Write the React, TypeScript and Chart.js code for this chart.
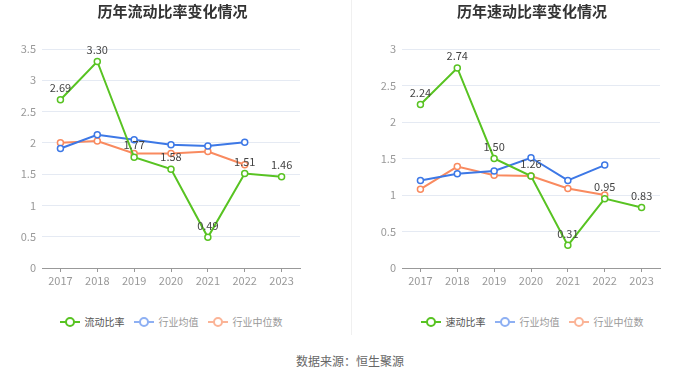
import React, { useEffect, useRef } from "react";
import { Chart, registerables } from "chart.js";

Chart.register(...registerables);

const years = ["2017", "2018", "2019", "2020", "2021", "2022", "2023"];

const currentRatio = [2.69, 3.3, 1.77, 1.58, 0.49, 1.51, 1.46];
const currentIndustryAvg = [1.91, 2.13, 2.05, 1.97, 1.95, 2.01, null];
const currentIndustryMedian = [2.0, 2.03, 1.83, 1.83, 1.86, 1.65, null];

const quickRatio = [2.24, 2.74, 1.5, 1.26, 0.31, 0.95, 0.83];
const quickIndustryAvg = [1.2, 1.29, 1.33, 1.51, 1.2, 1.41, null];
const quickIndustryMedian = [1.08, 1.39, 1.27, 1.26, 1.09, 1.0, null];

const leftTitle = "历年流动比率变化情况";
const rightTitle = "历年速动比率变化情况";
const leftLegend = ["流动比率", "行业均值", "行业中位数"];
const rightLegend = ["速动比率", "行业均值", "行业中位数"];
const sourceText = "数据来源：恒生聚源";

const GREEN = "#58c322";
const BLUE = "#3d78e6";
const ORANGE = "#f98a5f";
const FONT = "'Noto Sans CJK SC', 'Noto Sans', sans-serif";

const labelPlugin = {
  id: "greenLabels",
  afterDatasetsDraw(chart: any) {
    const ctx = chart.ctx;
    const meta = chart.getDatasetMeta(0);
    const data = chart.data.datasets[0].data;
    ctx.save();
    ctx.font = `11px ${FONT}`;
    ctx.fillStyle = "#444";
    ctx.textAlign = "center";
    ctx.textBaseline = "middle";
    meta.data.forEach((pt: any, i: number) => {
      const v = data[i];
      if (v == null) return;
      ctx.fillText(Number(v).toFixed(2), pt.x, pt.y - 12);
    });
    ctx.restore();
  },
};

function LineChart(props: {
  main: number[];
  avg: (number | null)[];
  med: (number | null)[];
  max: number;
  yWidth: number;
  padLeft: number;
  padRight: number;
  labels: string[];
}) {
  const ref = useRef<HTMLCanvasElement | null>(null);
  useEffect(() => {
    if (!ref.current) return;
    const mk = (label: string, data: any[], color: string) => ({
      label,
      data,
      borderColor: color,
      backgroundColor: "#fff",
      pointBackgroundColor: "#fff",
      pointBorderColor: color,
      pointBorderWidth: 1.5,
      pointRadius: 3,
      borderWidth: 2,
      tension: 0,
      spanGaps: false,
    });
    const chart = new Chart(ref.current, {
      type: "line",
      data: {
        labels: years,
        datasets: [
          mk(props.labels[0], props.main, GREEN),
          mk(props.labels[1], props.avg, BLUE),
          mk(props.labels[2], props.med, ORANGE),
        ] as any,
      },
      options: {
        animation: false,
        responsive: false,
        maintainAspectRatio: false,
        layout: { padding: { top: 49, left: props.padLeft, right: props.padRight, bottom: 0 } },
        plugins: {
          legend: { display: false },
          title: { display: false },
          tooltip: { enabled: false },
        },
        scales: {
          x: {
            offset: true,
            grid: {
              offset: false,
              drawOnChartArea: false,
              drawTicks: true,
              tickLength: 4,
              color: "#999",
            },
            border: { display: true, color: "#999" },
            ticks: {
              color: "#999",
              font: { family: FONT, size: 11 },
              padding: 2,
              maxRotation: 0,
            },
            afterFit: (s: any) => {
              s.height = 22;
            },
          },
          y: {
            min: 0,
            max: props.max,
            ticks: {
              stepSize: 0.5,
              color: "#999",
              font: { family: FONT, size: 11 },
              padding: 6,
              callback: (v: any) => String(v),
            },
            grid: { color: "#e5eaf3", drawTicks: false },
            border: { display: false },
            afterFit: (s: any) => {
              s.width = props.yWidth;
            },
          },
        },
      },
      plugins: [labelPlugin],
    });
    return () => chart.destroy();
  }, []);
  return <canvas ref={ref} width={350} height={290} style={{ display: "block", width: 350, height: 290 }} />;
}

function LegendItem(props: { color: string; text: string; textColor: string; last?: boolean }) {
  return (
    <div style={{ display: "flex", alignItems: "center", marginRight: props.last ? 0 : 9 }}>
      <svg width="20" height="12" style={{ marginRight: 5 }}>
        <line x1="0" y1="6" x2="20" y2="6" stroke={props.color} strokeWidth="2" />
        <circle cx="10" cy="6" r="4" fill="#fff" stroke={props.color} strokeWidth="2" />
      </svg>
      <span style={{ color: props.textColor, fontSize: 10, lineHeight: "12px" }}>{props.text}</span>
    </div>
  );
}

function Legend(props: { labels: string[]; center: number }) {
  return (
    <div
      style={{
        position: "absolute",
        top: 316,
        left: props.center - 175,
        width: 350,
        display: "flex",
        justifyContent: "center",
        fontFamily: FONT,
      }}
    >
      <LegendItem color={GREEN} text={props.labels[0]} textColor="#555" />
      <LegendItem color="#8eb0f3" text={props.labels[1]} textColor="#999" />
      <LegendItem color="#fbb497" text={props.labels[2]} textColor="#999" last />
    </div>
  );
}

export default function App() {
  return (
    <div
      style={{
        position: "fixed",
        left: 0,
        top: 0,
        width: 700,
        height: 378,
        background: "#fff",
        fontFamily: FONT,
        overflow: "hidden",
      }}
    >
      <div style={{ position: "absolute", left: 0, top: 0 }}>
        <LineChart
          main={currentRatio}
          avg={currentIndustryAvg}
          med={currentIndustryMedian}
          max={3.5}
          yWidth={42}
          padLeft={0}
          padRight={50}
          labels={leftLegend}
        />
      </div>
      <div style={{ position: "absolute", left: 350, top: 0 }}>
        <LineChart
          main={quickRatio}
          avg={quickIndustryAvg}
          med={quickIndustryMedian}
          max={3}
          yWidth={52}
          padLeft={0}
          padRight={40}
          labels={rightLegend}
        />
      </div>
      <div
        style={{
          position: "absolute",
          left: 0,
          width: 345,
          top: 0,
          textAlign: "center",
          fontSize: 15,
          fontWeight: "bold",
          color: "#333",
        }}
      >
        {leftTitle}
      </div>
      <div
        style={{
          position: "absolute",
          left: 357,
          width: 350,
          top: 0,
          textAlign: "center",
          fontSize: 15,
          fontWeight: "bold",
          color: "#333",
        }}
      >
        {rightTitle}
      </div>
      <div style={{ position: "absolute", left: 351, top: 0, width: 1, height: 335, background: "#f0f0f0" }} />
      <Legend labels={leftLegend} center={171} />
      <Legend labels={rightLegend} center={532} />
      <div
        style={{
          position: "absolute",
          left: 0,
          width: 700,
          top: 352,
          textAlign: "center",
          fontSize: 12,
          color: "#666",
        }}
      >
        {sourceText}
      </div>
    </div>
  );
}
